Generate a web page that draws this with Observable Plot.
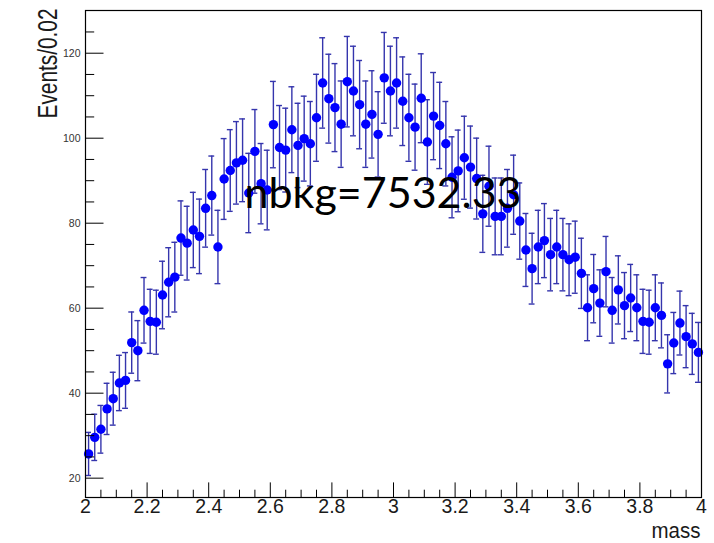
<!DOCTYPE html>
<html>
<head>
<meta charset="utf-8">
<script src="https://cdn.jsdelivr.net/npm/d3@7"></script>
<script src="https://cdn.jsdelivr.net/npm/@observablehq/plot@0.6"></script>
<style>
  html, body { margin: 0; padding: 0; background: #fff; }
  #chart svg { display: block; }
</style>
</head>
<body>
<div id="chart"></div>
<script>
// Bin centers (mass), bin width 0.02
const mass = [
  2.01, 2.03, 2.05, 2.07, 2.09, 2.11, 2.13, 2.15, 2.17, 2.19,
  2.21, 2.23, 2.25, 2.27, 2.29, 2.31, 2.33, 2.35, 2.37, 2.39,
  2.41, 2.43, 2.45, 2.47, 2.49, 2.51, 2.53, 2.55, 2.57, 2.59,
  2.61, 2.63, 2.65, 2.67, 2.69, 2.71, 2.73, 2.75, 2.77, 2.79,
  2.81, 2.83, 2.85, 2.87, 2.89, 2.91, 2.93, 2.95, 2.97, 2.99,
  3.01, 3.03, 3.05, 3.07, 3.09, 3.11, 3.13, 3.15, 3.17, 3.19,
  3.21, 3.23, 3.25, 3.27, 3.29, 3.31, 3.33, 3.35, 3.37, 3.39,
  3.41, 3.43, 3.45, 3.47, 3.49, 3.51, 3.53, 3.55, 3.57, 3.59,
  3.61, 3.63, 3.65, 3.67, 3.69, 3.71, 3.73, 3.75, 3.77, 3.79,
  3.81, 3.83, 3.85, 3.87, 3.89, 3.91, 3.93, 3.95, 3.97, 3.99
];
// Events per bin
const events = [
  25.7, 29.6, 31.5, 36.3, 38.7, 42.4, 43.0, 51.9, 50.0, 59.5,
  56.9, 56.7, 63.1, 66.1, 67.3, 76.5, 75.3, 78.4, 76.9, 83.5,
  86.5, 74.4, 90.4, 92.4, 94.2, 94.8, 87.1, 96.9, 89.3, 87.8,
  103.2, 97.8, 97.2, 102.0, 98.3, 99.9, 98.7, 104.8, 113.0, 109.3,
  107.2, 103.3, 113.3, 111.1, 107.9, 103.3, 105.6, 100.9, 114.2, 111.1,
  113.0, 108.7, 104.8, 102.6, 109.4, 99.1, 105.2, 103.0, 98.7, 90.8,
  92.3, 95.4, 93.2, 90.5, 82.2, 88.7, 81.6, 81.6, 83.5, 86.7,
  80.5, 73.7, 69.3, 74.4, 75.9, 72.6, 74.4, 72.6, 71.4, 72.0,
  68.2, 60.1, 64.6, 61.2, 68.6, 59.5, 64.3, 60.6, 62.4, 60.1,
  56.9, 56.7, 60.1, 58.3, 46.9, 51.8, 56.5, 53.3, 51.6, 49.6
];

const xTicks = [2, 2.2, 2.4, 2.6, 2.8, 3, 3.2, 3.4, 3.6, 3.8, 4];
const xTickLabels = ["2", "2.2", "2.4", "2.6", "2.8", "3", "3.2", "3.4", "3.6", "3.8", "4"];
const xMinorTicks = [
  2.05, 2.1, 2.15, 2.25, 2.3, 2.35, 2.45, 2.5, 2.55, 2.65, 2.7, 2.75,
  2.85, 2.9, 2.95, 3.05, 3.1, 3.15, 3.25, 3.3, 3.35, 3.45, 3.5, 3.55,
  3.65, 3.7, 3.75, 3.85, 3.9, 3.95
];
const yTicks = [20, 40, 60, 80, 100, 120];
const yTickLabels = ["20", "40", "60", "80", "100", "120"];
const yMinorTicks = [25, 30, 35, 45, 50, 55, 65, 70, 75, 85, 90, 95, 105, 110, 115, 125];

const xTitle = "mass";
const yTitle = "Events/0.02";
const annotation = "nbkg=7532.33";
const annotationPos = {x: 2.966, y: 86.7};

const data = mass.map((m, i) => ({mass: m, n: events[i], err: Math.sqrt(events[i])}));

const W = 714, H = 543;
const mL = 85, mR = 13, mT = 10, mB = 46;
const frameW = W - mL - mR, frameH = H - mT - mB;
const capHalf = 0.0095;
const barColor = "#3535ad";

const plot = Plot.plot({
  width: W,
  height: H,
  marginLeft: mL,
  marginRight: mR,
  marginTop: mT,
  marginBottom: mB,
  style: {fontFamily: "'Liberation Sans', Arial, Helvetica, sans-serif", background: "#fff"},
  x: {domain: [2, 4], axis: null},
  y: {domain: [15.45, 130.05], axis: null},
  marks: [
    // error bars
    Plot.ruleX(data, {x: "mass", y1: d => d.n - d.err, y2: d => d.n + d.err, stroke: barColor, strokeWidth: 1.4}),
    Plot.ruleY(data, {y: d => d.n + d.err, x1: d => d.mass - capHalf, x2: d => d.mass + capHalf, stroke: barColor, strokeWidth: 1.4}),
    Plot.ruleY(data, {y: d => d.n - d.err, x1: d => d.mass - capHalf, x2: d => d.mass + capHalf, stroke: barColor, strokeWidth: 1.4}),
    // markers
    Plot.dot(data, {x: "mass", y: "n", r: 4.7, fill: "#0000ff", stroke: "none"}),
    // ticks (inside frame)
    Plot.tickX(xTicks, {x: d => d, insetTop: frameH - 14.6, stroke: "#000", strokeWidth: 1}),
    Plot.tickX(xMinorTicks, {x: d => d, insetTop: frameH - 7.3, stroke: "#000", strokeWidth: 1}),
    Plot.tickY(yTicks, {y: d => d, insetRight: frameW - 18.5, stroke: "#000", strokeWidth: 1}),
    Plot.tickY(yMinorTicks, {y: d => d, insetRight: frameW - 9.2, stroke: "#000", strokeWidth: 1}),
    Plot.frame({stroke: "#000", strokeWidth: 1.2}),
    // tick labels
    Plot.text(xTicks, {x: d => d, text: (d, i) => xTickLabels[i], frameAnchor: "bottom", dy: 15, fontSize: 19.5, fill: "#1a1a1a"}),
    Plot.text(yTicks, {y: d => d, text: (d, i) => yTickLabels[i], frameAnchor: "left", textAnchor: "end", dx: -5, fontSize: 10.5, fill: "#333"}),
    // axis titles
    Plot.text([xTitle], {text: d => d, frameAnchor: "bottom-right", textAnchor: "end", dx: -1, dy: 40, fontSize: 22, fill: "#1a1a1a"}),
    Plot.text([yTitle], {text: d => d, frameAnchor: "top-left", rotate: -90, textAnchor: "end", dx: -48, dy: -2, fontSize: 27, fill: "#1a1a1a"}),
    // annotation
    Plot.text([annotation], {text: d => d, x: () => annotationPos.x, y: () => annotationPos.y, fontSize: 43, fontFamily: "Lato, 'Open Sans', sans-serif", fill: "#000"})
  ]
});
// ROOT renders its axis titles slightly condensed: fit them to the reference lengths
d3.select(plot).selectAll("text").each(function () {
  const t = this.textContent;
  if (t === yTitle) d3.select(this).attr("textLength", 110).attr("lengthAdjust", "spacingAndGlyphs");
  if (t === xTitle) d3.select(this).attr("textLength", 49).attr("lengthAdjust", "spacingAndGlyphs");
});
document.getElementById("chart").appendChild(plot);
</script>
</body>
</html>
